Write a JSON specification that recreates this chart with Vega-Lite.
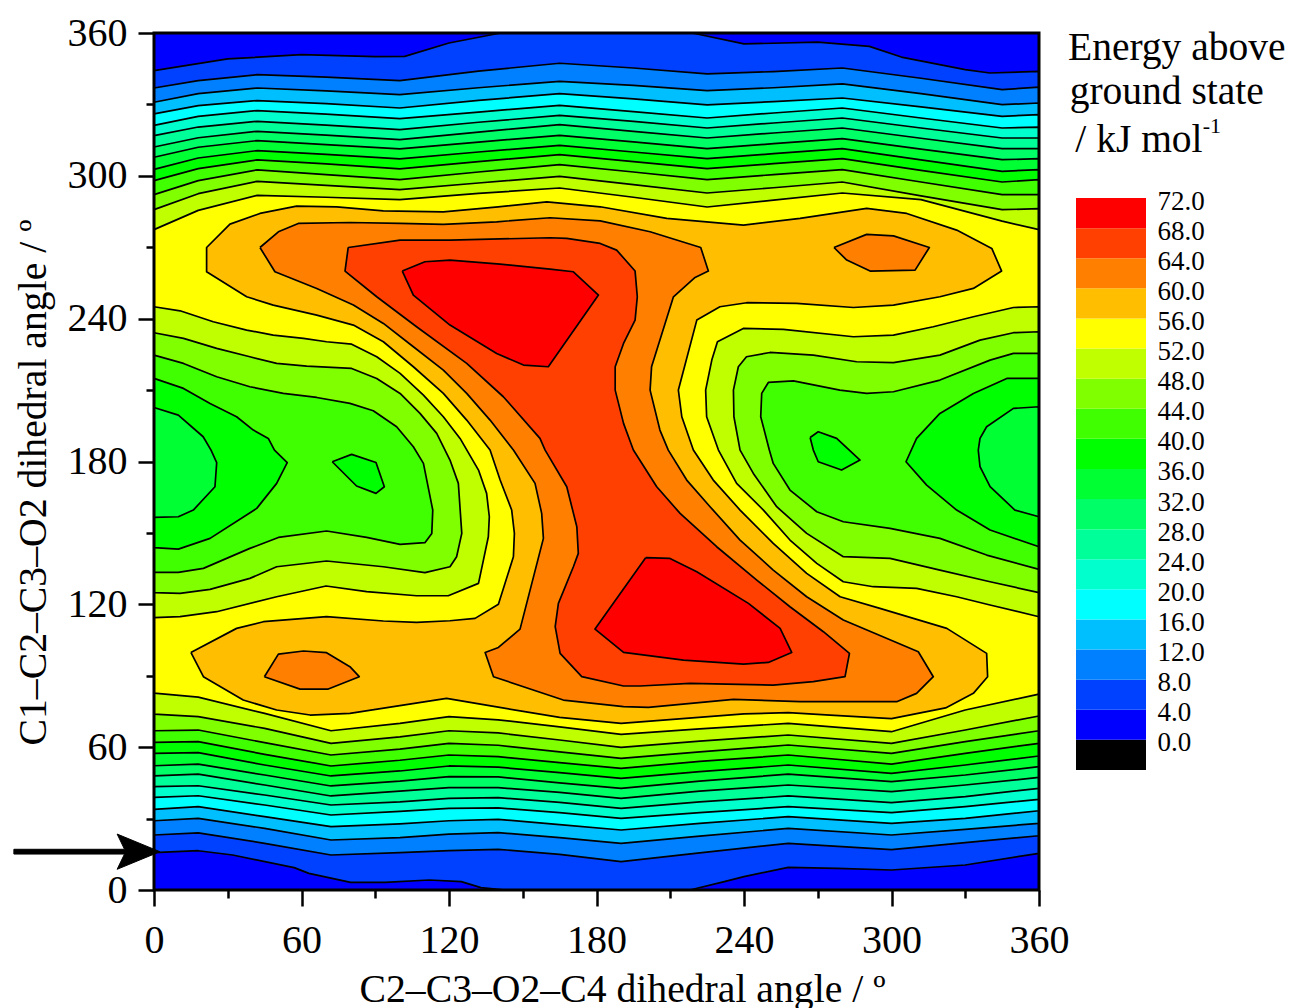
{"$schema":"https://vega.github.io/schema/vega-lite/v6.json","background":"white","padding":{"left":11,"top":13,"right":0,"bottom":0},"bounds":"flush","spacing":37,"config":{"view":{"stroke":null},"font":"Liberation Serif"},"datasets":{"contours":[
{"p":0,"e":4,"x":0,"y":0},{"p":0,"e":4,"x":360,"y":0},{"p":0,"e":4,"x":360,"y":360},{"p":0,"e":4,"x":0,"y":360},{"p":0,"e":4,"x":0,"y":0},
{"p":1,"e":8,"x":0,"y":344.2},{"p":1,"e":8,"x":30,"y":349.1},{"p":1,"e":8,"x":60,"y":350.9},{"p":1,"e":8,"x":90,"y":350.1},{"p":1,"e":8,"x":102,"y":350.2},{"p":1,"e":8,"x":120,"y":355.8},{"p":1,"e":8,"x":141,"y":360},{"p":1,"e":8,"x":219,"y":360},{"p":1,"e":8,"x":240,"y":355.4},{"p":1,"e":8,"x":270,"y":356.2},{"p":1,"e":8,"x":291,"y":354.4},{"p":1,"e":8,"x":304,"y":349.9},{"p":1,"e":8,"x":330,"y":344.6},{"p":1,"e":8,"x":340,"y":343.2},{"p":1,"e":8,"x":360,"y":343.9},{"p":1,"e":8,"x":360,"y":15.4},{"p":1,"e":8,"x":330,"y":10.5},{"p":1,"e":8,"x":300,"y":8.4},{"p":1,"e":8,"x":278,"y":9.1},{"p":1,"e":8,"x":258,"y":9.5},{"p":1,"e":8,"x":240,"y":5.6},{"p":1,"e":8,"x":232,"y":3.5},{"p":1,"e":8,"x":218,"y":0},{"p":1,"e":8,"x":143,"y":0},{"p":1,"e":8,"x":133,"y":1},{"p":1,"e":8,"x":125,"y":3.5},{"p":1,"e":8,"x":112,"y":4.2},{"p":1,"e":8,"x":94,"y":3.2},{"p":1,"e":8,"x":80,"y":3.2},{"p":1,"e":8,"x":63,"y":7},{"p":1,"e":8,"x":57,"y":9.4},{"p":1,"e":8,"x":32,"y":14.7},{"p":1,"e":8,"x":18,"y":16.5},{"p":1,"e":8,"x":0,"y":15.7},{"p":1,"e":8,"x":0,"y":344.2},
{"p":2,"e":12,"x":0,"y":336.9},{"p":2,"e":12,"x":18,"y":340},{"p":2,"e":12,"x":42,"y":342.5},{"p":2,"e":12,"x":70,"y":341.5},{"p":2,"e":12,"x":100,"y":340},{"p":2,"e":12,"x":132,"y":344},{"p":2,"e":12,"x":165,"y":347.3},{"p":2,"e":12,"x":195,"y":345.3},{"p":2,"e":12,"x":225,"y":342.8},{"p":2,"e":12,"x":252,"y":343.8},{"p":2,"e":12,"x":280,"y":345.3},{"p":2,"e":12,"x":312,"y":341},{"p":2,"e":12,"x":345,"y":336.2},{"p":2,"e":12,"x":360,"y":337.3},{"p":2,"e":12,"x":360,"y":22.8},{"p":2,"e":12,"x":330,"y":19.9},{"p":2,"e":12,"x":300,"y":17},{"p":2,"e":12,"x":258,"y":19.6},{"p":2,"e":12,"x":222,"y":15.6},{"p":2,"e":12,"x":190,"y":11.9},{"p":2,"e":12,"x":165,"y":15},{"p":2,"e":12,"x":140,"y":17.1},{"p":2,"e":12,"x":120,"y":16.5},{"p":2,"e":12,"x":100,"y":15.7},{"p":2,"e":12,"x":72,"y":14.7},{"p":2,"e":12,"x":45,"y":19.6},{"p":2,"e":12,"x":18,"y":24},{"p":2,"e":12,"x":0,"y":23.1},{"p":2,"e":12,"x":0,"y":336.9},
{"p":3,"e":16,"x":0,"y":330.9},{"p":3,"e":16,"x":18,"y":334.5},{"p":3,"e":16,"x":42,"y":336.9},{"p":3,"e":16,"x":70,"y":335.7},{"p":3,"e":16,"x":100,"y":334.1},{"p":3,"e":16,"x":132,"y":337},{"p":3,"e":16,"x":165,"y":339.7},{"p":3,"e":16,"x":195,"y":338},{"p":3,"e":16,"x":225,"y":335.8},{"p":3,"e":16,"x":252,"y":337},{"p":3,"e":16,"x":280,"y":338.6},{"p":3,"e":16,"x":312,"y":334.5},{"p":3,"e":16,"x":345,"y":329.9},{"p":3,"e":16,"x":360,"y":330.6},{"p":3,"e":16,"x":360,"y":28},{"p":3,"e":16,"x":330,"y":25.5},{"p":3,"e":16,"x":300,"y":23.1},{"p":3,"e":16,"x":258,"y":25.9},{"p":3,"e":16,"x":222,"y":22.6},{"p":3,"e":16,"x":190,"y":19.6},{"p":3,"e":16,"x":165,"y":22},{"p":3,"e":16,"x":140,"y":24.1},{"p":3,"e":16,"x":120,"y":23.5},{"p":3,"e":16,"x":100,"y":22},{"p":3,"e":16,"x":72,"y":21},{"p":3,"e":16,"x":45,"y":25.9},{"p":3,"e":16,"x":18,"y":30.1},{"p":3,"e":16,"x":0,"y":29.1},{"p":3,"e":16,"x":0,"y":330.9},
{"p":4,"e":20,"x":0,"y":326},{"p":4,"e":20,"x":18,"y":329.5},{"p":4,"e":20,"x":42,"y":331.6},{"p":4,"e":20,"x":70,"y":330.3},{"p":4,"e":20,"x":100,"y":328.5},{"p":4,"e":20,"x":132,"y":331.7},{"p":4,"e":20,"x":165,"y":334.5},{"p":4,"e":20,"x":195,"y":332.3},{"p":4,"e":20,"x":225,"y":329.8},{"p":4,"e":20,"x":252,"y":331.2},{"p":4,"e":20,"x":280,"y":332.7},{"p":4,"e":20,"x":312,"y":329},{"p":4,"e":20,"x":345,"y":325},{"p":4,"e":20,"x":360,"y":325.7},{"p":4,"e":20,"x":360,"y":33.3},{"p":4,"e":20,"x":330,"y":30.1},{"p":4,"e":20,"x":300,"y":28},{"p":4,"e":20,"x":258,"y":30.8},{"p":4,"e":20,"x":222,"y":28},{"p":4,"e":20,"x":190,"y":25.2},{"p":4,"e":20,"x":165,"y":27.5},{"p":4,"e":20,"x":140,"y":29.7},{"p":4,"e":20,"x":120,"y":29.1},{"p":4,"e":20,"x":100,"y":27.8},{"p":4,"e":20,"x":72,"y":26.6},{"p":4,"e":20,"x":45,"y":30.8},{"p":4,"e":20,"x":18,"y":35},{"p":4,"e":20,"x":0,"y":33.9},{"p":4,"e":20,"x":0,"y":326},
{"p":5,"e":24,"x":0,"y":321.2},{"p":5,"e":24,"x":18,"y":325},{"p":5,"e":24,"x":42,"y":327.4},{"p":5,"e":24,"x":70,"y":325.9},{"p":5,"e":24,"x":100,"y":324},{"p":5,"e":24,"x":132,"y":326.8},{"p":5,"e":24,"x":165,"y":329.6},{"p":5,"e":24,"x":195,"y":327},{"p":5,"e":24,"x":225,"y":324.3},{"p":5,"e":24,"x":252,"y":326.4},{"p":5,"e":24,"x":280,"y":328.5},{"p":5,"e":24,"x":312,"y":324.3},{"p":5,"e":24,"x":345,"y":320.1},{"p":5,"e":24,"x":360,"y":320.5},{"p":5,"e":24,"x":360,"y":38.1},{"p":5,"e":24,"x":330,"y":35},{"p":5,"e":24,"x":300,"y":32.5},{"p":5,"e":24,"x":258,"y":35},{"p":5,"e":24,"x":222,"y":32.5},{"p":5,"e":24,"x":190,"y":30.1},{"p":5,"e":24,"x":165,"y":32.5},{"p":5,"e":24,"x":140,"y":34.5},{"p":5,"e":24,"x":120,"y":34.3},{"p":5,"e":24,"x":100,"y":33},{"p":5,"e":24,"x":72,"y":31.5},{"p":5,"e":24,"x":45,"y":35.7},{"p":5,"e":24,"x":18,"y":39.6},{"p":5,"e":24,"x":0,"y":38.9},{"p":5,"e":24,"x":0,"y":321.2},
{"p":6,"e":28,"x":0,"y":316.9},{"p":6,"e":28,"x":18,"y":320.5},{"p":6,"e":28,"x":42,"y":322.9},{"p":6,"e":28,"x":70,"y":321.3},{"p":6,"e":28,"x":100,"y":319.4},{"p":6,"e":28,"x":132,"y":322.5},{"p":6,"e":28,"x":165,"y":325.4},{"p":6,"e":28,"x":195,"y":322.9},{"p":6,"e":28,"x":225,"y":320.1},{"p":6,"e":28,"x":252,"y":322.2},{"p":6,"e":28,"x":280,"y":324.3},{"p":6,"e":28,"x":312,"y":320.1},{"p":6,"e":28,"x":345,"y":315.9},{"p":6,"e":28,"x":360,"y":315.9},{"p":6,"e":28,"x":360,"y":42.7},{"p":6,"e":28,"x":330,"y":39.2},{"p":6,"e":28,"x":300,"y":36.7},{"p":6,"e":28,"x":258,"y":39.5},{"p":6,"e":28,"x":222,"y":37},{"p":6,"e":28,"x":190,"y":34.3},{"p":6,"e":28,"x":165,"y":36.8},{"p":6,"e":28,"x":140,"y":38.8},{"p":6,"e":28,"x":120,"y":38.5},{"p":6,"e":28,"x":100,"y":37},{"p":6,"e":28,"x":72,"y":35.7},{"p":6,"e":28,"x":45,"y":39.9},{"p":6,"e":28,"x":18,"y":43.8},{"p":6,"e":28,"x":0,"y":43.4},{"p":6,"e":28,"x":0,"y":316.9},
{"p":7,"e":32,"x":0,"y":312.1},{"p":7,"e":32,"x":18,"y":316},{"p":7,"e":32,"x":42,"y":318.7},{"p":7,"e":32,"x":70,"y":317.1},{"p":7,"e":32,"x":100,"y":315.2},{"p":7,"e":32,"x":132,"y":318.4},{"p":7,"e":32,"x":165,"y":321.5},{"p":7,"e":32,"x":195,"y":318.7},{"p":7,"e":32,"x":225,"y":315.9},{"p":7,"e":32,"x":252,"y":318},{"p":7,"e":32,"x":280,"y":320.1},{"p":7,"e":32,"x":312,"y":315.8},{"p":7,"e":32,"x":345,"y":311.4},{"p":7,"e":32,"x":360,"y":311.4},{"p":7,"e":32,"x":360,"y":47.3},{"p":7,"e":32,"x":330,"y":44.1},{"p":7,"e":32,"x":300,"y":41.3},{"p":7,"e":32,"x":258,"y":44.1},{"p":7,"e":32,"x":222,"y":41.5},{"p":7,"e":32,"x":190,"y":38.5},{"p":7,"e":32,"x":165,"y":41},{"p":7,"e":32,"x":140,"y":43},{"p":7,"e":32,"x":120,"y":43},{"p":7,"e":32,"x":100,"y":41.5},{"p":7,"e":32,"x":72,"y":39.5},{"p":7,"e":32,"x":45,"y":44.1},{"p":7,"e":32,"x":18,"y":48.7},{"p":7,"e":32,"x":0,"y":47.9},{"p":7,"e":32,"x":0,"y":312.1},
{"p":8,"e":36,"x":0,"y":307.8},{"p":8,"e":36,"x":18,"y":312},{"p":8,"e":36,"x":42,"y":314.8},{"p":8,"e":36,"x":70,"y":313.1},{"p":8,"e":36,"x":100,"y":311.3},{"p":8,"e":36,"x":132,"y":314.2},{"p":8,"e":36,"x":165,"y":317},{"p":8,"e":36,"x":195,"y":314.3},{"p":8,"e":36,"x":225,"y":311.4},{"p":8,"e":36,"x":252,"y":313.5},{"p":8,"e":36,"x":280,"y":315.6},{"p":8,"e":36,"x":312,"y":311.2},{"p":8,"e":36,"x":345,"y":306.8},{"p":8,"e":36,"x":360,"y":307.2},{"p":8,"e":36,"x":360,"y":51.8},{"p":8,"e":36,"x":330,"y":48.3},{"p":8,"e":36,"x":300,"y":45.5},{"p":8,"e":36,"x":258,"y":48.7},{"p":8,"e":36,"x":222,"y":45.7},{"p":8,"e":36,"x":190,"y":42.7},{"p":8,"e":36,"x":165,"y":45},{"p":8,"e":36,"x":140,"y":47.5},{"p":8,"e":36,"x":120,"y":47.6},{"p":8,"e":36,"x":100,"y":45.7},{"p":8,"e":36,"x":72,"y":43.7},{"p":8,"e":36,"x":45,"y":48.3},{"p":8,"e":36,"x":18,"y":52.9},{"p":8,"e":36,"x":0,"y":52.2},{"p":8,"e":36,"x":0,"y":307.8},
{"p":9,"e":40,"x":0,"y":302.7},{"p":9,"e":40,"x":18,"y":307.5},{"p":9,"e":40,"x":42,"y":310.6},{"p":9,"e":40,"x":70,"y":309},{"p":9,"e":40,"x":100,"y":307.1},{"p":9,"e":40,"x":132,"y":310},{"p":9,"e":40,"x":165,"y":312.8},{"p":9,"e":40,"x":195,"y":310},{"p":9,"e":40,"x":225,"y":307.2},{"p":9,"e":40,"x":252,"y":309.3},{"p":9,"e":40,"x":280,"y":311.4},{"p":9,"e":40,"x":312,"y":306.7},{"p":9,"e":40,"x":345,"y":301.9},{"p":9,"e":40,"x":360,"y":302.6},{"p":9,"e":40,"x":360,"y":56.3},{"p":9,"e":40,"x":330,"y":52.5},{"p":9,"e":40,"x":300,"y":49},{"p":9,"e":40,"x":258,"y":52.5},{"p":9,"e":40,"x":222,"y":49.7},{"p":9,"e":40,"x":190,"y":46.9},{"p":9,"e":40,"x":165,"y":49.3},{"p":9,"e":40,"x":140,"y":51.6},{"p":9,"e":40,"x":120,"y":52.1},{"p":9,"e":40,"x":100,"y":50},{"p":9,"e":40,"x":72,"y":47.9},{"p":9,"e":40,"x":45,"y":52.5},{"p":9,"e":40,"x":18,"y":57.7},{"p":9,"e":40,"x":0,"y":57.4},{"p":9,"e":40,"x":0,"y":302.7},
{"p":10,"e":44,"x":0,"y":298},{"p":10,"e":44,"x":18,"y":303},{"p":10,"e":44,"x":42,"y":306.7},{"p":10,"e":44,"x":70,"y":305},{"p":10,"e":44,"x":100,"y":302.9},{"p":10,"e":44,"x":132,"y":306},{"p":10,"e":44,"x":165,"y":308.9},{"p":10,"e":44,"x":195,"y":306},{"p":10,"e":44,"x":225,"y":303},{"p":10,"e":44,"x":252,"y":305.1},{"p":10,"e":44,"x":280,"y":307.2},{"p":10,"e":44,"x":312,"y":302.3},{"p":10,"e":44,"x":345,"y":297.4},{"p":10,"e":44,"x":360,"y":298.4},{"p":10,"e":44,"x":360,"y":61.6},{"p":10,"e":44,"x":330,"y":57.4},{"p":10,"e":44,"x":300,"y":52.9},{"p":10,"e":44,"x":258,"y":56.7},{"p":10,"e":44,"x":222,"y":54},{"p":10,"e":44,"x":190,"y":51.1},{"p":10,"e":44,"x":165,"y":53.5},{"p":10,"e":44,"x":140,"y":56},{"p":10,"e":44,"x":120,"y":56.7},{"p":10,"e":44,"x":100,"y":54.5},{"p":10,"e":44,"x":72,"y":52.1},{"p":10,"e":44,"x":45,"y":57},{"p":10,"e":44,"x":18,"y":62.3},{"p":10,"e":44,"x":0,"y":62},{"p":10,"e":44,"x":0,"y":298},
{"p":11,"e":48,"x":0,"y":292.1},{"p":11,"e":48,"x":18,"y":298},{"p":11,"e":48,"x":42,"y":302.5},{"p":11,"e":48,"x":70,"y":300.5},{"p":11,"e":48,"x":100,"y":298.4},{"p":11,"e":48,"x":132,"y":301.6},{"p":11,"e":48,"x":165,"y":304.7},{"p":11,"e":48,"x":195,"y":301.6},{"p":11,"e":48,"x":225,"y":298.4},{"p":11,"e":48,"x":252,"y":300.5},{"p":11,"e":48,"x":280,"y":302.6},{"p":11,"e":48,"x":312,"y":297.4},{"p":11,"e":48,"x":345,"y":292.1},{"p":11,"e":48,"x":360,"y":292.1},{"p":11,"e":48,"x":360,"y":66.9},{"p":11,"e":48,"x":330,"y":62.3},{"p":11,"e":48,"x":300,"y":57.4},{"p":11,"e":48,"x":258,"y":60.9},{"p":11,"e":48,"x":222,"y":58},{"p":11,"e":48,"x":190,"y":55.3},{"p":11,"e":48,"x":165,"y":58},{"p":11,"e":48,"x":140,"y":60.8},{"p":11,"e":48,"x":120,"y":61.6},{"p":11,"e":48,"x":100,"y":59.2},{"p":11,"e":48,"x":72,"y":56.7},{"p":11,"e":48,"x":45,"y":61.9},{"p":11,"e":48,"x":18,"y":67.2},{"p":11,"e":48,"x":0,"y":66.9},{"p":11,"e":48,"x":0,"y":292.1},
{"p":12,"e":52,"x":0,"y":285.8},{"p":12,"e":52,"x":18,"y":292.5},{"p":12,"e":52,"x":42,"y":297.7},{"p":12,"e":52,"x":70,"y":296},{"p":12,"e":52,"x":100,"y":294.2},{"p":12,"e":52,"x":132,"y":297},{"p":12,"e":52,"x":165,"y":299.8},{"p":12,"e":52,"x":195,"y":296.3},{"p":12,"e":52,"x":225,"y":292.8},{"p":12,"e":52,"x":252,"y":295},{"p":12,"e":52,"x":280,"y":297.4},{"p":12,"e":52,"x":312,"y":291.6},{"p":12,"e":52,"x":345,"y":285.8},{"p":12,"e":52,"x":360,"y":286.2},{"p":12,"e":52,"x":360,"y":73.1},{"p":12,"e":52,"x":330,"y":67.2},{"p":12,"e":52,"x":300,"y":61.6},{"p":12,"e":52,"x":258,"y":65.1},{"p":12,"e":52,"x":222,"y":62.5},{"p":12,"e":52,"x":190,"y":59.9},{"p":12,"e":52,"x":165,"y":63},{"p":12,"e":52,"x":140,"y":66},{"p":12,"e":52,"x":120,"y":66.9},{"p":12,"e":52,"x":100,"y":64.3},{"p":12,"e":52,"x":72,"y":61.6},{"p":12,"e":52,"x":45,"y":67.9},{"p":12,"e":52,"x":18,"y":72.8},{"p":12,"e":52,"x":0,"y":73.9},{"p":12,"e":52,"x":0,"y":285.8},
{"p":13,"e":56,"x":0,"y":277.4},{"p":13,"e":56,"x":18,"y":285.5},{"p":13,"e":56,"x":42,"y":291.8},{"p":13,"e":56,"x":70,"y":291},{"p":13,"e":56,"x":100,"y":290},{"p":13,"e":56,"x":132,"y":292.6},{"p":13,"e":56,"x":165,"y":294.9},{"p":13,"e":56,"x":195,"y":291},{"p":13,"e":56,"x":225,"y":286.9},{"p":13,"e":56,"x":252,"y":289.8},{"p":13,"e":56,"x":280,"y":292.8},{"p":13,"e":56,"x":312,"y":290},{"p":13,"e":56,"x":345,"y":281},{"p":13,"e":56,"x":360,"y":277.4},{"p":13,"e":56,"x":360,"y":82.3},{"p":13,"e":56,"x":330,"y":75.6},{"p":13,"e":56,"x":300,"y":66.5},{"p":13,"e":56,"x":258,"y":70},{"p":13,"e":56,"x":222,"y":67.7},{"p":13,"e":56,"x":190,"y":65.4},{"p":13,"e":56,"x":165,"y":68.5},{"p":13,"e":56,"x":140,"y":71.5},{"p":13,"e":56,"x":120,"y":72.8},{"p":13,"e":56,"x":100,"y":70},{"p":13,"e":56,"x":72,"y":66.9},{"p":13,"e":56,"x":45,"y":74.2},{"p":13,"e":56,"x":18,"y":81},{"p":13,"e":56,"x":0,"y":82.7},{"p":13,"e":56,"x":0,"y":277.4},
{"p":14,"e":52,"x":0,"y":245},{"p":14,"e":52,"x":10.6,"y":243.3},{"p":14,"e":52,"x":24.1,"y":238.7},{"p":14,"e":52,"x":37.7,"y":235.2},{"p":14,"e":52,"x":48.5,"y":233.1},{"p":14,"e":52,"x":60.8,"y":231.7},{"p":14,"e":52,"x":70.2,"y":230.3},{"p":14,"e":52,"x":80.4,"y":229.3},{"p":14,"e":52,"x":90.6,"y":224},{"p":14,"e":52,"x":100.1,"y":217},{"p":14,"e":52,"x":109.6,"y":207.9},{"p":14,"e":52,"x":117.7,"y":198.8},{"p":14,"e":52,"x":124.5,"y":189.7},{"p":14,"e":52,"x":132,"y":176.4},{"p":14,"e":52,"x":135.3,"y":166.6},{"p":14,"e":52,"x":136.4,"y":156.8},{"p":14,"e":52,"x":136,"y":148.4},{"p":14,"e":52,"x":134,"y":138.6},{"p":14,"e":52,"x":132,"y":128.8},{"p":14,"e":52,"x":119.7,"y":123.6},{"p":14,"e":52,"x":106.8,"y":123.6},{"p":14,"e":52,"x":86.5,"y":125.3},{"p":14,"e":52,"x":70,"y":127.7},{"p":14,"e":52,"x":49.9,"y":123.2},{"p":14,"e":52,"x":25.5,"y":116.9},{"p":14,"e":52,"x":10.6,"y":114.8},{"p":14,"e":52,"x":0,"y":114.4},{"p":14,"e":52,"x":0,"y":245},
{"p":15,"e":52,"x":360,"y":245},{"p":15,"e":52,"x":349.6,"y":244.7},{"p":15,"e":52,"x":333.3,"y":240.8},{"p":15,"e":52,"x":317,"y":236.6},{"p":15,"e":52,"x":300.8,"y":233.1},{"p":15,"e":52,"x":284.5,"y":232.4},{"p":15,"e":52,"x":256,"y":235.5},{"p":15,"e":52,"x":239.7,"y":235.9},{"p":15,"e":52,"x":229.2,"y":230.3},{"p":15,"e":52,"x":226.9,"y":222.6},{"p":15,"e":52,"x":224.4,"y":210},{"p":15,"e":52,"x":224.8,"y":198.8},{"p":15,"e":52,"x":229.6,"y":184.8},{"p":15,"e":52,"x":237,"y":170.8},{"p":15,"e":52,"x":247.9,"y":159.6},{"p":15,"e":52,"x":258.7,"y":147},{"p":15,"e":52,"x":269.6,"y":137.2},{"p":15,"e":52,"x":280.4,"y":129.5},{"p":15,"e":52,"x":292.6,"y":127.4},{"p":15,"e":52,"x":310.2,"y":126.7},{"p":15,"e":52,"x":326.5,"y":123.2},{"p":15,"e":52,"x":340.1,"y":119.7},{"p":15,"e":52,"x":360,"y":114.8},{"p":15,"e":52,"x":360,"y":245},
{"p":16,"e":48,"x":0,"y":234.1},{"p":16,"e":48,"x":12,"y":231.7},{"p":16,"e":48,"x":25.5,"y":227.5},{"p":16,"e":48,"x":39,"y":224},{"p":16,"e":48,"x":49.9,"y":221.2},{"p":16,"e":48,"x":62.1,"y":220.1},{"p":16,"e":48,"x":80.4,"y":219.1},{"p":16,"e":48,"x":90.6,"y":214.9},{"p":16,"e":48,"x":100.1,"y":208.6},{"p":16,"e":48,"x":108.2,"y":200.2},{"p":16,"e":48,"x":115,"y":191.8},{"p":16,"e":48,"x":120.4,"y":180.6},{"p":16,"e":48,"x":123.8,"y":170.8},{"p":16,"e":48,"x":125.2,"y":149.8},{"p":16,"e":48,"x":123.1,"y":140},{"p":16,"e":48,"x":120.4,"y":135.8},{"p":16,"e":48,"x":110.2,"y":133.3},{"p":16,"e":48,"x":93.3,"y":135.8},{"p":16,"e":48,"x":70.2,"y":138.2},{"p":16,"e":48,"x":49.9,"y":135.8},{"p":16,"e":48,"x":39,"y":130.9},{"p":16,"e":48,"x":22.8,"y":126.3},{"p":16,"e":48,"x":10.6,"y":124.6},{"p":16,"e":48,"x":0,"y":124.9},{"p":16,"e":48,"x":0,"y":234.1},
{"p":17,"e":48,"x":360,"y":234.5},{"p":17,"e":48,"x":349.6,"y":234.1},{"p":17,"e":48,"x":336,"y":231},{"p":17,"e":48,"x":319.7,"y":224.7},{"p":17,"e":48,"x":300.8,"y":221.5},{"p":17,"e":48,"x":285.8,"y":221.9},{"p":17,"e":48,"x":268.2,"y":224.7},{"p":17,"e":48,"x":250.6,"y":225.8},{"p":17,"e":48,"x":241,"y":224},{"p":17,"e":48,"x":237.7,"y":219.8},{"p":17,"e":48,"x":235.7,"y":210},{"p":17,"e":48,"x":235.9,"y":198.8},{"p":17,"e":48,"x":238.4,"y":184.8},{"p":17,"e":48,"x":243.8,"y":175},{"p":17,"e":48,"x":253.3,"y":161},{"p":17,"e":48,"x":265.5,"y":149.8},{"p":17,"e":48,"x":280.4,"y":140},{"p":17,"e":48,"x":299.4,"y":139.3},{"p":17,"e":48,"x":319.7,"y":134.4},{"p":17,"e":48,"x":340.1,"y":129.5},{"p":17,"e":48,"x":360,"y":124.9},{"p":17,"e":48,"x":360,"y":234.5},
{"p":18,"e":44,"x":0,"y":224.7},{"p":18,"e":44,"x":12,"y":221.2},{"p":18,"e":44,"x":25.5,"y":215.6},{"p":18,"e":44,"x":39,"y":211.4},{"p":18,"e":44,"x":52.6,"y":208.6},{"p":18,"e":44,"x":66.2,"y":206.9},{"p":18,"e":44,"x":79.7,"y":204.4},{"p":18,"e":44,"x":89.2,"y":201.3},{"p":18,"e":44,"x":98.7,"y":194.6},{"p":18,"e":44,"x":105.5,"y":186.2},{"p":18,"e":44,"x":109.6,"y":179.2},{"p":18,"e":44,"x":113.4,"y":159.6},{"p":18,"e":44,"x":113,"y":149.8},{"p":18,"e":44,"x":110.2,"y":145.9},{"p":18,"e":44,"x":100.1,"y":145.2},{"p":18,"e":44,"x":86.5,"y":148.1},{"p":18,"e":44,"x":70.2,"y":150.8},{"p":18,"e":44,"x":50.6,"y":148.1},{"p":18,"e":44,"x":39,"y":143.5},{"p":18,"e":44,"x":20.1,"y":135.1},{"p":18,"e":44,"x":9.9,"y":133.4},{"p":18,"e":44,"x":0,"y":133.4},{"p":18,"e":44,"x":0,"y":224.7},
{"p":19,"e":44,"x":360,"y":225.4},{"p":19,"e":44,"x":349.6,"y":225.4},{"p":19,"e":44,"x":340.1,"y":222.6},{"p":19,"e":44,"x":319.7,"y":214.2},{"p":19,"e":44,"x":300.8,"y":209.3},{"p":19,"e":44,"x":289.9,"y":208.6},{"p":19,"e":44,"x":279,"y":210},{"p":19,"e":44,"x":260.1,"y":213.9},{"p":19,"e":44,"x":249.9,"y":213.2},{"p":19,"e":44,"x":247.2,"y":208.6},{"p":19,"e":44,"x":246.8,"y":198.8},{"p":19,"e":44,"x":250.3,"y":184.8},{"p":19,"e":44,"x":251.9,"y":179.2},{"p":19,"e":44,"x":258.7,"y":168},{"p":19,"e":44,"x":269.6,"y":158.9},{"p":19,"e":44,"x":280.4,"y":154.7},{"p":19,"e":44,"x":299.4,"y":151.9},{"p":19,"e":44,"x":319.7,"y":147.7},{"p":19,"e":44,"x":338.7,"y":140.7},{"p":19,"e":44,"x":360,"y":134.7},{"p":19,"e":44,"x":360,"y":225.4},
{"p":20,"e":40,"x":0,"y":214.9},{"p":20,"e":40,"x":12,"y":210.7},{"p":20,"e":40,"x":22.8,"y":204.4},{"p":20,"e":40,"x":33.6,"y":198.8},{"p":20,"e":40,"x":40.4,"y":193.2},{"p":20,"e":40,"x":46.5,"y":189.7},{"p":20,"e":40,"x":49,"y":184.8},{"p":20,"e":40,"x":54.2,"y":179.5},{"p":20,"e":40,"x":49.9,"y":170.8},{"p":20,"e":40,"x":41.8,"y":160.3},{"p":20,"e":40,"x":22.8,"y":147.7},{"p":20,"e":40,"x":9.9,"y":143.2},{"p":20,"e":40,"x":0,"y":143.8},{"p":20,"e":40,"x":0,"y":214.9},
{"p":21,"e":40,"x":360,"y":214.9},{"p":21,"e":40,"x":346.9,"y":214.9},{"p":21,"e":40,"x":333.3,"y":208.6},{"p":21,"e":40,"x":319.7,"y":200.2},{"p":21,"e":40,"x":310.2,"y":189.7},{"p":21,"e":40,"x":305.9,"y":179.9},{"p":21,"e":40,"x":314.3,"y":170.1},{"p":21,"e":40,"x":326.5,"y":159.6},{"p":21,"e":40,"x":340.1,"y":151.2},{"p":21,"e":40,"x":360,"y":144.2},{"p":21,"e":40,"x":360,"y":214.9},
{"p":22,"e":40,"x":72.5,"y":179.9},{"p":22,"e":40,"x":80.4,"y":183},{"p":22,"e":40,"x":90.3,"y":179.6},{"p":22,"e":40,"x":93.7,"y":169.4},{"p":22,"e":40,"x":90.3,"y":166.6},{"p":22,"e":40,"x":82.4,"y":169.7},{"p":22,"e":40,"x":72.5,"y":179.9},
{"p":23,"e":40,"x":266.9,"y":190.1},{"p":23,"e":40,"x":270.2,"y":192.5},{"p":23,"e":40,"x":277.7,"y":189.7},{"p":23,"e":40,"x":287.2,"y":180.6},{"p":23,"e":40,"x":279.7,"y":176.4},{"p":23,"e":40,"x":270.2,"y":179.9},{"p":23,"e":40,"x":268.2,"y":184.8},{"p":23,"e":40,"x":266.9,"y":190.1},
{"p":24,"e":36,"x":0,"y":202.7},{"p":24,"e":36,"x":9.9,"y":199.5},{"p":24,"e":36,"x":20,"y":190.4},{"p":24,"e":36,"x":23.2,"y":184.8},{"p":24,"e":36,"x":25.5,"y":179.5},{"p":24,"e":36,"x":24.8,"y":169.4},{"p":24,"e":36,"x":16,"y":159.6},{"p":24,"e":36,"x":9.9,"y":156.8},{"p":24,"e":36,"x":0,"y":156.5},{"p":24,"e":36,"x":0,"y":202.7},
{"p":25,"e":36,"x":360,"y":203},{"p":25,"e":36,"x":349.6,"y":202.3},{"p":25,"e":36,"x":338.7,"y":194.6},{"p":25,"e":36,"x":336,"y":189.7},{"p":25,"e":36,"x":335.3,"y":184.8},{"p":25,"e":36,"x":336,"y":177.8},{"p":25,"e":36,"x":340.1,"y":169.4},{"p":25,"e":36,"x":350.2,"y":159.6},{"p":25,"e":36,"x":360,"y":156.8},{"p":25,"e":36,"x":360,"y":203},
{"p":26,"e":60,"x":15,"y":99.8},{"p":26,"e":60,"x":33.6,"y":109.9},{"p":26,"e":60,"x":44.5,"y":112.7},{"p":26,"e":60,"x":70.2,"y":114.8},{"p":26,"e":60,"x":93.3,"y":113},{"p":26,"e":60,"x":106.8,"y":112.4},{"p":26,"e":60,"x":120.4,"y":113.1},{"p":26,"e":60,"x":130.6,"y":114.1},{"p":26,"e":60,"x":140.1,"y":120},{"p":26,"e":60,"x":146.2,"y":140},{"p":26,"e":60,"x":146.6,"y":149.8},{"p":26,"e":60,"x":145.5,"y":159.6},{"p":26,"e":60,"x":140.8,"y":172.2},{"p":26,"e":60,"x":136.7,"y":184.8},{"p":26,"e":60,"x":127.2,"y":197.4},{"p":26,"e":60,"x":117.7,"y":208.6},{"p":26,"e":60,"x":105.5,"y":219.8},{"p":26,"e":60,"x":93.3,"y":230.3},{"p":26,"e":60,"x":81.1,"y":237.3},{"p":26,"e":60,"x":66.2,"y":241.5},{"p":26,"e":60,"x":48.5,"y":245.7},{"p":26,"e":60,"x":37.7,"y":249.2},{"p":26,"e":60,"x":21.4,"y":259.7},{"p":26,"e":60,"x":21.4,"y":269.9},{"p":26,"e":60,"x":30.9,"y":279.7},{"p":26,"e":60,"x":43.1,"y":284.2},{"p":26,"e":60,"x":58,"y":287.3},{"p":26,"e":60,"x":74.3,"y":287},{"p":26,"e":60,"x":93.3,"y":285.3},{"p":26,"e":60,"x":117.7,"y":284.9},{"p":26,"e":60,"x":140,"y":287},{"p":26,"e":60,"x":159.8,"y":289.1},{"p":26,"e":60,"x":181.5,"y":287},{"p":26,"e":60,"x":208.6,"y":282.1},{"p":26,"e":60,"x":239.8,"y":279.3},{"p":26,"e":60,"x":262.8,"y":282.1},{"p":26,"e":60,"x":289.9,"y":286.3},{"p":26,"e":60,"x":306.2,"y":284.2},{"p":26,"e":60,"x":326.5,"y":277.2},{"p":26,"e":60,"x":340.8,"y":269.5},{"p":26,"e":60,"x":344.8,"y":260},{"p":26,"e":60,"x":333.3,"y":252.7},{"p":26,"e":60,"x":319.7,"y":249.2},{"p":26,"e":60,"x":300.8,"y":245.7},{"p":26,"e":60,"x":284.5,"y":244.7},{"p":26,"e":60,"x":261.4,"y":246.4},{"p":26,"e":60,"x":241.1,"y":246.7},{"p":26,"e":60,"x":230.2,"y":245},{"p":26,"e":60,"x":220.8,"y":239.4},{"p":26,"e":60,"x":213.3,"y":210},{"p":26,"e":60,"x":214.7,"y":198.8},{"p":26,"e":60,"x":219.4,"y":184.8},{"p":26,"e":60,"x":227.5,"y":172.2},{"p":26,"e":60,"x":238.4,"y":159.6},{"p":26,"e":60,"x":251.9,"y":145.6},{"p":26,"e":60,"x":265.5,"y":133},{"p":26,"e":60,"x":279.1,"y":123.2},{"p":26,"e":60,"x":295.3,"y":118.3},{"p":26,"e":60,"x":322.5,"y":109.9},{"p":26,"e":60,"x":338.7,"y":99.4},{"p":26,"e":60,"x":339.1,"y":89.6},{"p":26,"e":60,"x":333.3,"y":82.6},{"p":26,"e":60,"x":322,"y":76.5},{"p":26,"e":60,"x":300,"y":72},{"p":26,"e":60,"x":275,"y":73.5},{"p":26,"e":60,"x":258,"y":74.5},{"p":26,"e":60,"x":240,"y":74},{"p":26,"e":60,"x":215,"y":72},{"p":26,"e":60,"x":190,"y":70},{"p":26,"e":60,"x":165,"y":72.5},{"p":26,"e":60,"x":140,"y":76.8},{"p":26,"e":60,"x":119,"y":80.5},{"p":26,"e":60,"x":79.7,"y":74.2},{"p":26,"e":60,"x":63.5,"y":73.5},{"p":26,"e":60,"x":49.9,"y":75.6},{"p":26,"e":60,"x":36.3,"y":79.8},{"p":26,"e":60,"x":20.1,"y":89.6},{"p":26,"e":60,"x":15,"y":99.8},
{"p":27,"e":64,"x":43.1,"y":269.9},{"p":27,"e":64,"x":50.6,"y":276.5},{"p":27,"e":64,"x":58.7,"y":280},{"p":27,"e":64,"x":79.7,"y":280.4},{"p":27,"e":64,"x":100.1,"y":280},{"p":27,"e":64,"x":117.7,"y":279.6},{"p":27,"e":64,"x":139.4,"y":280.7},{"p":27,"e":64,"x":161.1,"y":282.4},{"p":27,"e":64,"x":181.5,"y":281.1},{"p":27,"e":64,"x":201.8,"y":276.5},{"p":27,"e":64,"x":222.4,"y":269.9},{"p":27,"e":64,"x":225.5,"y":260},{"p":27,"e":64,"x":220.1,"y":257.3},{"p":27,"e":64,"x":211.3,"y":249.2},{"p":27,"e":64,"x":202.4,"y":219.8},{"p":27,"e":64,"x":201.8,"y":210},{"p":27,"e":64,"x":205.8,"y":193.2},{"p":27,"e":64,"x":209.2,"y":184.8},{"p":27,"e":64,"x":216.7,"y":172.2},{"p":27,"e":64,"x":226.2,"y":161},{"p":27,"e":64,"x":238.4,"y":147},{"p":27,"e":64,"x":251.9,"y":134.4},{"p":27,"e":64,"x":265.5,"y":123.2},{"p":27,"e":64,"x":280.4,"y":113.4},{"p":27,"e":64,"x":310.9,"y":100.1},{"p":27,"e":64,"x":317,"y":89.6},{"p":27,"e":64,"x":310.2,"y":82.6},{"p":27,"e":64,"x":302.1,"y":79.1},{"p":27,"e":64,"x":262.8,"y":79.1},{"p":27,"e":64,"x":235.7,"y":80.1},{"p":27,"e":64,"x":201.1,"y":76.7},{"p":27,"e":64,"x":191,"y":77},{"p":27,"e":64,"x":166.5,"y":79.8},{"p":27,"e":64,"x":138.1,"y":89.6},{"p":27,"e":64,"x":134.7,"y":99.8},{"p":27,"e":64,"x":140.1,"y":101.9},{"p":27,"e":64,"x":148.9,"y":109.6},{"p":27,"e":64,"x":158.4,"y":147.7},{"p":27,"e":64,"x":157.7,"y":158.2},{"p":27,"e":64,"x":155,"y":170.8},{"p":27,"e":64,"x":146.2,"y":184.8},{"p":27,"e":64,"x":136.7,"y":197.4},{"p":27,"e":64,"x":127.2,"y":208.6},{"p":27,"e":64,"x":117.7,"y":218.4},{"p":27,"e":64,"x":105.5,"y":228.2},{"p":27,"e":64,"x":93.3,"y":238},{"p":27,"e":64,"x":81.1,"y":245.7},{"p":27,"e":64,"x":66.2,"y":252.7},{"p":27,"e":64,"x":49.2,"y":259.7},{"p":27,"e":64,"x":43.1,"y":269.9},
{"p":28,"e":64,"x":44.9,"y":89.6},{"p":28,"e":64,"x":50.6,"y":99.1},{"p":28,"e":64,"x":60.8,"y":100.4},{"p":28,"e":64,"x":70.2,"y":99.7},{"p":28,"e":64,"x":79.7,"y":93.8},{"p":28,"e":64,"x":83.5,"y":89.6},{"p":28,"e":64,"x":70.9,"y":84.4},{"p":28,"e":64,"x":59.4,"y":84.4},{"p":28,"e":64,"x":44.9,"y":89.6},
{"p":29,"e":64,"x":276.6,"y":269.9},{"p":29,"e":64,"x":289.9,"y":275.4},{"p":29,"e":64,"x":300.8,"y":274.8},{"p":29,"e":64,"x":315.4,"y":269.9},{"p":29,"e":64,"x":309.6,"y":260.4},{"p":29,"e":64,"x":291.3,"y":260},{"p":29,"e":64,"x":281.8,"y":264.6},{"p":29,"e":64,"x":276.6,"y":269.9},
{"p":30,"e":68,"x":79,"y":269.9},{"p":30,"e":68,"x":100.1,"y":273},{"p":30,"e":68,"x":120.4,"y":273},{"p":30,"e":68,"x":161.1,"y":274},{"p":30,"e":68,"x":167.9,"y":273.7},{"p":30,"e":68,"x":181.5,"y":271.6},{"p":30,"e":68,"x":188.2,"y":268.8},{"p":30,"e":68,"x":195.7,"y":260},{"p":30,"e":68,"x":196.6,"y":249.2},{"p":30,"e":68,"x":195.7,"y":239.4},{"p":30,"e":68,"x":191,"y":229.6},{"p":30,"e":68,"x":187.6,"y":219.8},{"p":30,"e":68,"x":187.6,"y":210},{"p":30,"e":68,"x":191,"y":196},{"p":30,"e":68,"x":195,"y":184.8},{"p":30,"e":68,"x":204.5,"y":169.4},{"p":30,"e":68,"x":214,"y":158.2},{"p":30,"e":68,"x":228.9,"y":144.2},{"p":30,"e":68,"x":245.2,"y":130.2},{"p":30,"e":68,"x":258.7,"y":119},{"p":30,"e":68,"x":272.3,"y":108.5},{"p":30,"e":68,"x":282.9,"y":99.4},{"p":30,"e":68,"x":281.1,"y":89.6},{"p":30,"e":68,"x":268.2,"y":87.5},{"p":30,"e":68,"x":251.9,"y":86.1},{"p":30,"e":68,"x":218,"y":86.8},{"p":30,"e":68,"x":197.7,"y":85.7},{"p":30,"e":68,"x":191,"y":85.7},{"p":30,"e":68,"x":174,"y":89.6},{"p":30,"e":68,"x":165.2,"y":99.4},{"p":30,"e":68,"x":163.2,"y":110.6},{"p":30,"e":68,"x":164.5,"y":120.4},{"p":30,"e":68,"x":170.6,"y":135.8},{"p":30,"e":68,"x":172.6,"y":141.4},{"p":30,"e":68,"x":172,"y":152.6},{"p":30,"e":68,"x":167.9,"y":169.4},{"p":30,"e":68,"x":159.1,"y":184.8},{"p":30,"e":68,"x":157,"y":189.7},{"p":30,"e":68,"x":142.1,"y":207.2},{"p":30,"e":68,"x":127.2,"y":221.2},{"p":30,"e":68,"x":106.8,"y":236.6},{"p":30,"e":68,"x":90.6,"y":249.2},{"p":30,"e":68,"x":77.7,"y":260},{"p":30,"e":68,"x":79,"y":269.9},
{"p":31,"e":72,"x":101,"y":260},{"p":31,"e":72,"x":110.2,"y":263.9},{"p":31,"e":72,"x":120.4,"y":264.6},{"p":31,"e":72,"x":140.8,"y":262.9},{"p":31,"e":72,"x":161.1,"y":260.8},{"p":31,"e":72,"x":170.6,"y":259.7},{"p":31,"e":72,"x":180.8,"y":249.9},{"p":31,"e":72,"x":160.4,"y":219.8},{"p":31,"e":72,"x":150.3,"y":220.5},{"p":31,"e":72,"x":139.4,"y":225.4},{"p":31,"e":72,"x":120.4,"y":237.3},{"p":31,"e":72,"x":105.5,"y":249.9},{"p":31,"e":72,"x":101,"y":260},
{"p":32,"e":72,"x":200,"y":139.6},{"p":32,"e":72,"x":209.9,"y":139.3},{"p":32,"e":72,"x":220.8,"y":133.7},{"p":32,"e":72,"x":241.8,"y":120.4},{"p":32,"e":72,"x":254.7,"y":109.9},{"p":32,"e":72,"x":259.4,"y":99.8},{"p":32,"e":72,"x":249.9,"y":95.6},{"p":32,"e":72,"x":239.8,"y":94.9},{"p":32,"e":72,"x":215.4,"y":96.6},{"p":32,"e":72,"x":191,"y":99.8},{"p":32,"e":72,"x":179.4,"y":109.6},{"p":32,"e":72,"x":200,"y":139.6}
],"arrow":[{"p":99,"x":-57,"y":17.1},{"p":99,"x":-12,"y":17.1},{"p":99,"x":-15,"y":23.5},{"p":99,"x":2.4,"y":16.1},{"p":99,"x":-15,"y":8.7},{"p":99,"x":-12,"y":15.1},{"p":99,"x":-57,"y":15.1},{"p":99,"x":-57,"y":17.1}],"bar":[{"low":-4,"e":0},{"low":0,"e":4},{"low":4,"e":8},{"low":8,"e":12},{"low":12,"e":16},{"low":16,"e":20},{"low":20,"e":24},{"low":24,"e":28},{"low":28,"e":32},{"low":32,"e":36},{"low":36,"e":40},{"low":40,"e":44},{"low":44,"e":48},{"low":48,"e":52},{"low":52,"e":56},{"low":56,"e":60},{"low":60,"e":64},{"low":64,"e":68},{"low":68,"e":72}],"titleText":[{"t":"Energy above","x":-0.114,"y":91.9},{"t":"ground state","x":-0.09,"y":86.1},{"t":"/ kJ mol","x":-0.01,"y":79.7}],"sup":[{"t":"-1","x":1.81,"y":81.6}]},
"hconcat":[{"width":885,"height":857,"resolve":{"axis":{"x":"independent","y":"independent"}},"layer":[
{"data":{"name":"contours"},"mark":{"type":"line","stroke":"black","strokeWidth":1.7,"strokeJoin":"round"},"encoding":{"x":{"field":"x","type":"quantitative","scale":{"domain":[0,360],"nice":false,"zero":false},"axis":{"orient":"bottom","values":[0,60,120,180,240,300,360],"tickSize":16,"tickWidth":2.5,"tickColor":"black","domain":false,"grid":false,"labelFont":"Liberation Serif","labelFontSize":40,"labelColor":"black","labelPadding":14,"labelOverlap":false,"labelFlush":false,"title":"C2–C3–O2–C4 dihedral angle / º","titleFont":"Liberation Serif","titleFontSize":39.7,"titleFontWeight":"normal","titleColor":"black","titlePadding":10,"titleX":468}},"y":{"field":"y","type":"quantitative","scale":{"domain":[0,360],"nice":false,"zero":false},"axis":{"orient":"left","values":[0,60,120,180,240,300,360],"tickSize":16,"tickWidth":2.5,"tickColor":"black","domain":false,"grid":false,"labelFont":"Liberation Serif","labelFontSize":40,"labelColor":"black","labelPadding":11,"labelOverlap":false,"labelFlush":false,"title":"C1–C2–C3–O2 dihedral angle / º","titleFont":"Liberation Serif","titleFontSize":39.7,"titleFontWeight":"normal","titleColor":"black","titlePadding":14,"titleY":449}},"detail":{"field":"p"},"fill":{"field":"e","type":"ordinal","legend":null,"scale":{"domain":[0,4,8,12,16,20,24,28,32,36,40,44,48,52,56,60,64,68,72],"range":["#000000","#0000ff","#0040ff","#0080ff","#00bfff","#00ffff","#00ffcc","#00ff99","#00ff66","#00ff33","#00ff00","#40ff00","#80ff00","#bfff00","#ffff00","#ffbf00","#ff8000","#ff4000","#ff0000"]}},"order":{"value":null}}},
{"data":{"values":[{"x0":0,"x1":360,"y0":0,"y1":360}]},"mark":{"type":"rect","fillOpacity":0,"stroke":"black","strokeWidth":3},"encoding":{"x":{"field":"x0","type":"quantitative","scale":{"domain":[0,360],"nice":false,"zero":false},"axis":{"orient":"bottom","values":[30,90,150,210,270,330],"tickSize":8,"tickWidth":2.5,"tickColor":"black","domain":false,"grid":false,"labels":false,"title":null}},"x2":{"field":"x1"},"y":{"field":"y0","type":"quantitative","scale":{"domain":[0,360],"nice":false,"zero":false},"axis":{"orient":"left","values":[30,90,150,210,270,330],"tickSize":8,"tickWidth":2.5,"tickColor":"black","domain":false,"grid":false,"labels":false,"title":null}},"y2":{"field":"y1"}}},
{"data":{"name":"arrow"},"mark":{"type":"line","stroke":"black","strokeWidth":1,"fill":"black"},"encoding":{"x":{"field":"x","type":"quantitative","scale":{"domain":[0,360],"nice":false,"zero":false},"axis":null},"y":{"field":"y","type":"quantitative","scale":{"domain":[0,360],"nice":false,"zero":false},"axis":null},"detail":{"field":"p"},"order":{"value":null}}}
]},
{"width":70,"height":857,"resolve":{"axis":{"y":"independent"}},"layer":[
{"data":{"name":"bar"},"mark":{"type":"rect"},"encoding":{"x":{"datum":0,"type":"quantitative","scale":{"domain":[0,1],"nice":false,"zero":false},"axis":null},"x2":{"datum":1},"y":{"field":"low","type":"quantitative","scale":{"domain":[-19.95,93.93],"nice":false,"zero":false},"axis":{"orient":"right","values":[0,4,8,12,16,20,24,28,32,36,40,44,48,52,56,60,64,68,72],"format":".1f","ticks":false,"domain":false,"grid":false,"labelFont":"Liberation Serif","labelFontSize":27,"labelColor":"black","labelPadding":11,"labelOffset":3,"labelOverlap":false,"labelFlush":false,"title":null}},"y2":{"field":"e"},"fill":{"field":"e","type":"ordinal","legend":null,"scale":{"domain":[0,4,8,12,16,20,24,28,32,36,40,44,48,52,56,60,64,68,72],"range":["#000000","#0000ff","#0040ff","#0080ff","#00bfff","#00ffff","#00ffcc","#00ff99","#00ff66","#00ff33","#00ff00","#40ff00","#80ff00","#bfff00","#ffff00","#ffbf00","#ff8000","#ff4000","#ff0000"]}}}},
{"data":{"name":"titleText"},"mark":{"type":"text","align":"left","baseline":"middle","font":"Liberation Serif","fontSize":39.5,"color":"black"},"encoding":{"x":{"field":"x","type":"quantitative","scale":{"domain":[0,1],"nice":false,"zero":false},"axis":null},"y":{"field":"y","type":"quantitative","scale":{"domain":[-19.95,93.93],"nice":false,"zero":false},"axis":null},"text":{"field":"t"}}},
{"data":{"name":"sup"},"mark":{"type":"text","align":"left","baseline":"middle","font":"Liberation Serif","fontSize":22,"color":"black"},"encoding":{"x":{"field":"x","type":"quantitative","scale":{"domain":[0,1],"nice":false,"zero":false},"axis":null},"y":{"field":"y","type":"quantitative","scale":{"domain":[-19.95,93.93],"nice":false,"zero":false},"axis":null},"text":{"field":"t"}}}
]}
]}
